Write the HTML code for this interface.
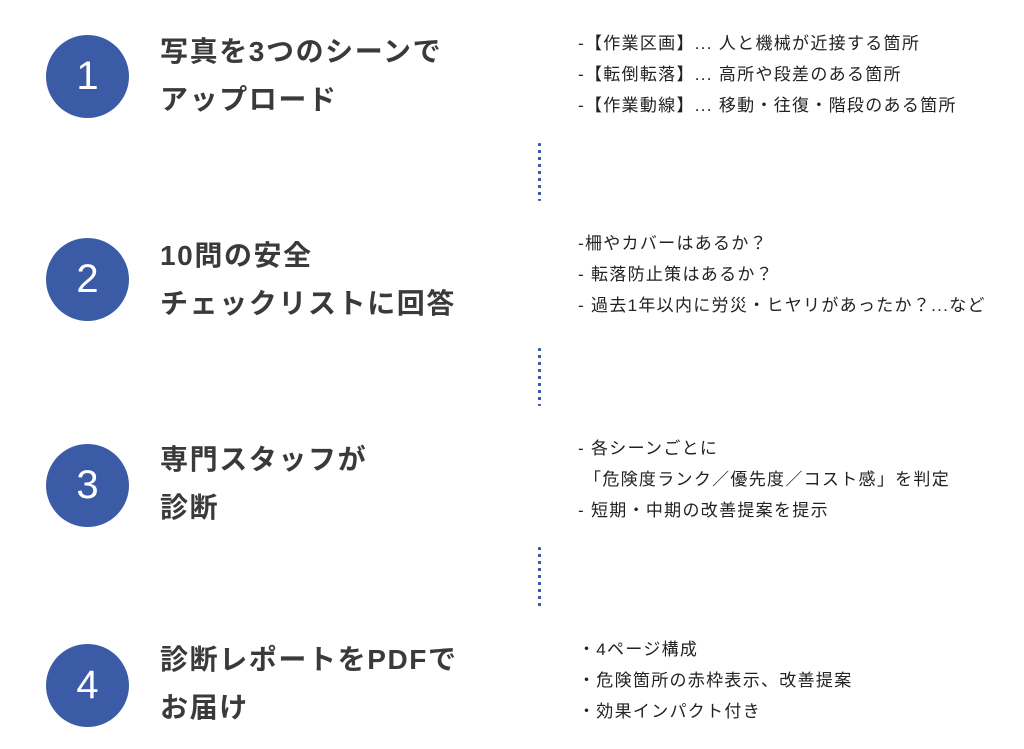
<!DOCTYPE html>
<html><head><meta charset="utf-8"><style>
body{margin:0;width:1024px;height:749px;background:#fff;position:relative;overflow:hidden;font-family:"Liberation Sans","Noto Sans CJK JP",sans-serif;color:#333}
.c{position:absolute;left:46px;width:83px;height:83px;border-radius:50%;background:#3b5ba6;color:#fff;font-size:40px;text-align:center;line-height:83px}
.t{position:absolute;left:160px;font-size:28px;font-weight:bold;color:#3a3a3a;line-height:48px;letter-spacing:1.6px}
.r{position:absolute;left:578px;font-size:17px;letter-spacing:1.3px;color:#222;white-space:nowrap}
.r div{height:31px;line-height:31px}
.d{position:absolute;left:538px;width:3px;background:repeating-linear-gradient(to bottom,#3b5ba6 0 3px,transparent 3px 7px);border-radius:1px}
</style></head><body>
<div class="c" style="top:35px">1</div>
<div class="c" style="top:238px">2</div>
<div class="c" style="top:444px">3</div>
<div class="c" style="top:644px">4</div>
<div class="t" style="top:28px">写真を3つのシーンで<br>アップロード</div>
<div class="t" style="top:232px">10問の安全<br>チェックリストに回答</div>
<div class="t" style="top:436px">専門スタッフが<br>診断</div>
<div class="t" style="top:636px">診断レポートをPDFで<br>お届け</div>
<div class="r" style="top:28px"><div>-【作業区画】... 人と機械が近接する箇所</div><div>-【転倒転落】... 高所や段差のある箇所</div><div>-【作業動線】... 移動・往復・階段のある箇所</div></div>
<div class="r" style="top:228px"><div>-柵やカバーはあるか？</div><div>- 転落防止策はあるか？</div><div>- 過去1年以内に労災・ヒヤリがあったか？...など</div></div>
<div class="r" style="top:433px"><div>- 各シーンごとに</div><div>&nbsp;「危険度ランク／優先度／コスト感」を判定</div><div>- 短期・中期の改善提案を提示</div></div>
<div class="r" style="top:634px"><div>・4ページ構成</div><div>・危険箇所の赤枠表示、改善提案</div><div>・効果インパクト付き</div></div>
<div class="d" style="top:143px;height:58px"></div>
<div class="d" style="top:348px;height:58px"></div>
<div class="d" style="top:547px;height:60px"></div>
</body></html>
